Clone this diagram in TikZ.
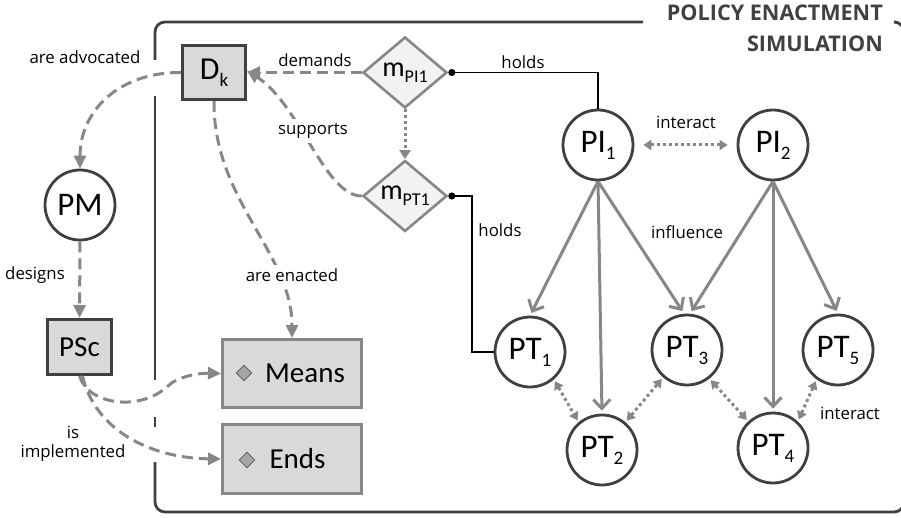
\documentclass[tikz,border=0pt]{standalone}
\usepackage{fontspec}
\setmainfont{Carlito}
\newfontfamily\lblfont{Open Sans}
\usetikzlibrary{shapes.geometric,arrows.meta}
\definecolor{cdark}{HTML}{404040}
\definecolor{cgray}{HTML}{878787}
\definecolor{cbox}{HTML}{D9D9D9}
\definecolor{cdia}{HTML}{F2F2F2}
\definecolor{cmark}{HTML}{A6A6A6}
\newcommand\subx[1]{\raisebox{-7pt}{\fontsize{19}{19}\selectfont #1}}
\newcommand\subm[1]{\raisebox{-6pt}{\fontsize{18}{18}\selectfont #1}}
\begin{document}
\begin{tikzpicture}[x=1pt,y=-1pt,
  circ/.style={circle,draw=cdark,line width=2.8pt,fill=white,minimum size=70pt,inner sep=0pt,font=\fontsize{33}{35}\selectfont},
  dbox/.style={rectangle,draw=cdark,line width=3pt,fill=cbox,inner sep=0pt},
  gbox/.style={rectangle,draw=cgray,line width=2.8pt,fill=cbox,inner sep=0pt,minimum width=139.2pt,font=\fontsize{29}{31}\selectfont},
  dia/.style={diamond,draw=cgray,line width=2.6pt,fill=cdia,inner sep=0pt,minimum width=84pt,minimum height=71pt,font=\fontsize{28}{30}\selectfont},
  dmark/.style={diamond,draw=cdark!80,line width=0.9pt,fill=cmark,inner sep=0pt,minimum size=16pt},
  lbl/.style={font=\lblfont\fontsize{16.8}{19}\selectfont,text=black,inner sep=1pt,align=center},
  dsh/.style={draw=cgray,line width=3pt,dash pattern=on 11pt off 6pt,-{Triangle[length=13pt,width=12pt]}},
  dotl/.style={draw=cgray,line width=3pt,dash pattern=on 3pt off 3pt,{Triangle[length=8pt,width=10pt]}-{Triangle[length=8pt,width=10pt]},shorten <=2pt,shorten >=2pt},
  dotone/.style={draw=cgray,line width=3pt,dash pattern=on 3pt off 3pt,-{Triangle[length=9pt,width=11pt]}},
  inf/.style={draw=cgray,line width=3pt,-{Straight Barb[length=9pt,width=17pt]},shorten >=3pt},
  hold/.style={draw=black,line width=1.4pt,{Circle[length=7pt]}-},
  frame/.style={draw=cdark,line width=2.8pt,rounded corners=10pt}
]
\useasboundingbox (0,0) rectangle (901,518);

% frame
\draw[frame] (643,22) -- (155,22) -- (155,60);
\draw[frame] (155,96) -- (155,380);
\draw[frame] (155,417) -- (155,427);
\draw[frame] (155,462) -- (155,512) -- (904,512) -- (904,22) -- (896,22);

\node[anchor=east,font=\lblfont\bfseries\fontsize{21.6}{24}\selectfont,text=cdark,inner sep=0pt] (t1) at (883,12.5) {POLICY ENACTMENT};
\node[anchor=east,font=\lblfont\bfseries\fontsize{21.6}{24}\selectfont,text=cdark,inner sep=0pt] (t2) at (883,43.5) {SIMULATION};

% nodes
\node[dbox,minimum width=63pt,minimum height=54pt,font=\fontsize{32}{34}\selectfont] (dk) at (214,72.5) {D\subx{k}};
\node[dbox,minimum width=64pt,minimum height=55pt,font=\fontsize{29}{31}\selectfont] (psc) at (79.5,347) {PSc};
\node[circ] (pm) at (80,205) {PM};
\node[dia] (mpi) at (405,72.5) {m\subm{PI1}};
\node[dia] (mpt) at (405,196) {m\subm{PT1}};
\node[gbox,minimum height=68.2pt] (means) at (292,373.5) {\hspace{26pt}Means};
\node[gbox,minimum height=69.2pt] (ends) at (292,459) {\hspace{11pt}Ends};
\node[dmark] (mmark) at (244,373) {};
\node[dmark] (emark) at (247,460) {};

\node[circ] (pi1) at (598,145) {PI\subx{1}};
\node[circ] (pi2) at (773,145) {PI\subx{2}};
\node[circ] (pt1) at (530,352) {PT\subx{1}};
\node[circ] (pt2) at (602,450) {PT\subx{2}};
\node[circ] (pt3) at (687,350) {PT\subx{3}};
\node[circ] (pt4) at (773,448) {PT\subx{4}};
\node[circ] (pt5) at (838,350) {PT\subx{5}};

% holds
\coordinate (hk) at (472,196);
\draw[hold] (mpi.east) -| (pi1.north);
\draw[hold] (mpt.east) -- (hk) |- (pt1.west);

% dashed connectors
\draw[dsh] (mpi.west) -- (dk.east);
\draw[dsh] (mpt.west) .. controls (325,196) and (300,105) .. ([yshift=2pt]dk.east);
\draw[dsh] (dk.west) .. controls (120,72) and (80,110) .. (pm.north);
\draw[dsh] (pm.south) -- (psc.north);
\draw[dsh] (dk.south) .. controls (213,200) and (292,253) .. (means.north);
\coordinate (kink) at (168,386);
\draw[dsh] (psc.south) .. controls (88,405) and (140,412) .. (kink) .. controls (178,376) and (200,373) .. (means.west);
\draw[dsh] ([xshift=3pt]psc.south) .. controls (95,430) and (150,458) .. (ends.west);

% dotted
\draw[dotone] (mpi.south) -- (mpt.north);
\draw[dotl,shorten <=9pt,shorten >=9pt] (pi1) -- (pi2);
\draw[dotl] (pt1.-49) -- (pt2.130);
\draw[dotl] (pt2.50) -- (pt3.-131);
\draw[dotl] (pt3.-52) -- (pt4.133);
\draw[dotl] (pt4.47) -- (pt5.-126);

% influence
\draw[inf] (pi1.south) -- (pt1.north);
\draw[inf] (pi1.south) -- (pt2.north);
\draw[inf] (pi1.south) -- ([xshift=-3pt]pt3.north);
\draw[inf] (pi2.south) -- ([xshift=3pt]pt3.north);
\draw[inf] (pi2.south) -- (pt4.north);
\draw[inf] (pi2.south) -- (pt5.north);

% labels
\node[lbl] (l1) at (85,57) {are advocated};
\node[lbl] (l2) at (315,60) {demands};
\node[lbl] (l3) at (523,62) {holds};
\node[lbl,fill=white,inner sep=4pt] (l4) at (313,131) {supports};
\node[lbl] (l5) at (500,230) {holds};
\node[lbl] (l6) at (686,122) {interact};
\node[lbl] (l7) at (687,232) {influence};
\node[lbl] (l8) at (35,275) {designs};
\node[lbl,fill=white,inner sep=4pt] (l9) at (292,275) {are enacted};
\node[lbl] (l10) at (73,444) {is\\implemented};
\node[lbl] (l11) at (850,413) {interact};
\end{tikzpicture}
\end{document}
